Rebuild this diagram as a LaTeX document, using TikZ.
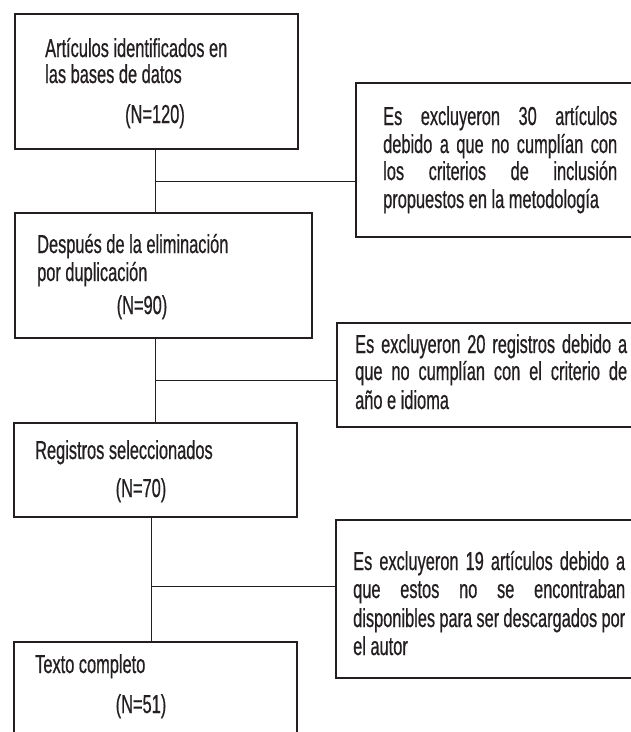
\documentclass[tikz,border=0pt]{standalone}
\usepackage{fontspec}
\setmainfont{Liberation Sans}[FakeStretch=0.63,FakeBold=0.6]
\definecolor{ink}{HTML}{231F20}
\begin{document}
\begin{tikzpicture}[x=1pt,y=-1pt,
  box/.style={draw=ink, line width=1.6pt, anchor=north west, inner sep=0pt, fill=white},
  conn/.style={draw=ink, line width=1pt},
  txt/.style={anchor=base west, inner sep=0pt, text=ink, font=\fontsize{26}{28}\selectfont},
  ntxt/.style={anchor=base, inner sep=0pt, text=ink, font=\fontsize{26}{28}\selectfont}]
\clip (0,0) rectangle (631,732);
\fill[white] (0,0) rectangle (631,732);
% boxes
\node[box, minimum width=283pt, minimum height=135pt] (b1) at (14,13) {};
\node[box, minimum width=345pt, minimum height=154pt] (r1) at (355,82) {};
\node[box, minimum width=297pt, minimum height=125pt] (b2) at (14,212) {};
\node[box, minimum width=364pt, minimum height=104pt] (r2) at (336,322) {};
\node[box, minimum width=283pt, minimum height=94pt] (b3) at (13,422) {};
\node[box, minimum width=365pt, minimum height=158pt] (r3) at (335,519) {};
\node[box, minimum width=283pt, minimum height=160pt] (b4) at (13,641) {};
% connectors
\coordinate (c1) at (155,0);
\coordinate (c3) at (151,0);
\coordinate (j1) at (155,181);
\coordinate (j2) at (155,380);
\coordinate (j3) at (151,586);
\draw[conn] (c1 |- b1.south) -- (c1 |- b2.north);
\draw[conn] (j1) -- (j1 -| r1.west);
\draw[conn] (c1 |- b2.south) -- (c1 |- b3.north);
\draw[conn] (j2) -- (j2 -| r2.west);
\draw[conn] (c3 |- b3.south) -- (c3 |- b4.north);
\draw[conn] (j3) -- (j3 -| r3.west);
% texts box 1
\node[txt] (t1a) at (45,57) {Artículos identificados en};
\node[txt] (t1b) at (45,83) {las bases de datos};
\node[ntxt] (t1n) at (155,123) {(N=120)};
% right box 1
\node[txt] (s1a) at (383,125) {\makebox[234pt][s]{Es excluyeron 30 artículos}};
\node[txt] (s1b) at (383,153) {\makebox[234pt][s]{debido a que no cumplían con}};
\node[txt] (s1c) at (383,180) {\makebox[234pt][s]{los criterios de inclusión}};
\node[txt] (s1d) at (383,208) {propuestos en la metodología};
% box 2
\node[txt] (t2a) at (37,253) {Después de la eliminación};
\node[txt] (t2b) at (37,281) {por duplicación};
\node[ntxt] (t2n) at (142,314) {(N=90)};
% right box 2
\node[txt] (s2a) at (355,353) {\makebox[272pt][s]{Es excluyeron 20 registros debido a}};
\node[txt] (s2b) at (355,380) {\makebox[272pt][s]{que no cumplían con el criterio de}};
\node[txt] (s2c) at (355,409) {año e idioma};
% box 3
\node[txt] (t3a) at (35,459) {Registros seleccionados};
\node[ntxt] (t3n) at (141,497) {(N=70)};
% right box 3
\node[txt] (s3a) at (353,570) {\makebox[272pt][s]{Es excluyeron 19 artículos debido a}};
\node[txt] (s3b) at (353,598) {\makebox[272pt][s]{que estos no se encontraban}};
\node[txt] (s3c) at (353,627) {\makebox[272pt][s]{disponibles para ser descargados por}};
\node[txt] (s3d) at (353,655) {el autor};
% box 4
\node[txt] (t4a) at (35,673) {Texto completo};
\node[ntxt] (t4n) at (141,713) {(N=51)};
\end{tikzpicture}
\end{document}
